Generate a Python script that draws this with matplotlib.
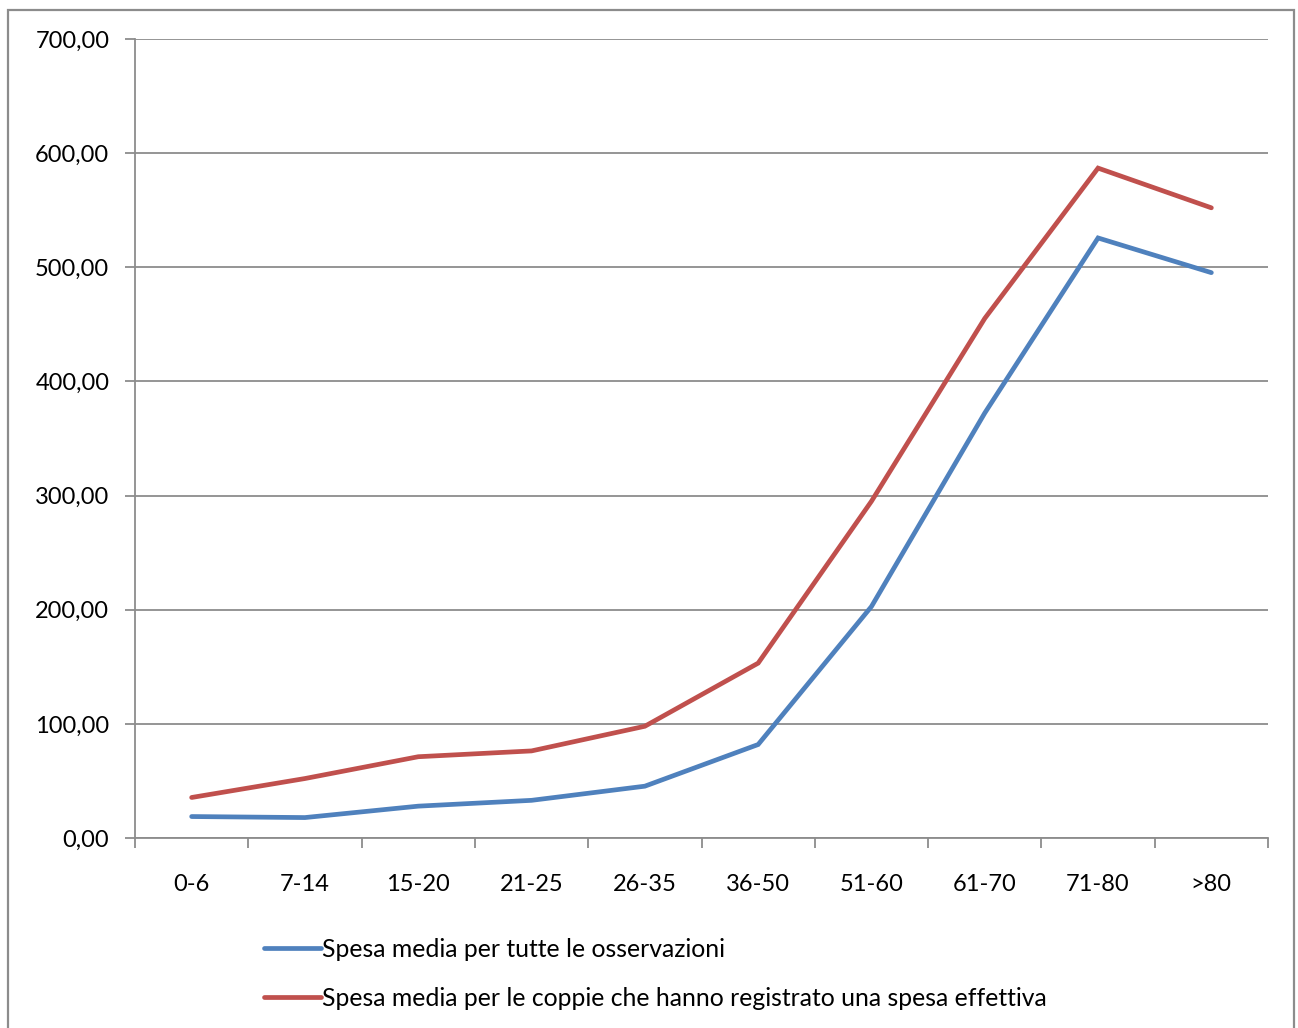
import numpy as np
import matplotlib
matplotlib.use("Agg")
import matplotlib.pyplot as plt
from matplotlib.patches import Rectangle
from matplotlib.ticker import FixedLocator, FuncFormatter

plt.rcParams['font.family'] = ['Lato', 'DejaVu Sans']

categories = ["0-6", "7-14", "15-20", "21-25", "26-35", "36-50", "51-60", "61-70", "71-80", ">80"]
spesa_tutte = [18.8, 17.9, 27.9, 33.0, 45.4, 81.9, 202.8, 372.3, 525.7, 495.3]
spesa_effettiva = [35.5, 52.1, 71.2, 76.3, 97.9, 153.2, 295.0, 455.2, 586.9, 552.1]
series_labels = ["Spesa media per tutte le osservazioni",
                 "Spesa media per le coppie che hanno registrato una spesa effettiva"]
y_ticks = [0, 100, 200, 300, 400, 500, 600, 700]

W, H = 1298, 1028
fig = plt.figure(figsize=(W / 100, H / 100), dpi=100)
fig.patch.set_facecolor("white")

# outer chart frame
fig.patches.append(Rectangle((8 / W, -0.05), (1294 - 8) / W, 1.05 - 10 / H,
                             transform=fig.transFigure, fill=False,
                             edgecolor="#8c8c8c", linewidth=1.6))

left, right, top, bottom = 135, 1268, 39, 838
ax = fig.add_axes([left / W, 1 - bottom / H, (right - left) / W, (bottom - top) / H])

grid_c = "#8c8c8c"
x = np.arange(len(categories))
ax.plot(x, spesa_tutte, color="#4F81BD", lw=3.4, solid_capstyle="round",
        solid_joinstyle="miter", label=series_labels[0])
ax.plot(x, spesa_effettiva, color="#C0504D", lw=3.4, solid_capstyle="round",
        solid_joinstyle="miter", label=series_labels[1])

ax.set_xlim(-0.5, len(categories) - 0.5)
ax.set_ylim(0, 700)

for s in ["top", "right"]:
    ax.spines[s].set_visible(False)
for s in ["left", "bottom"]:
    ax.spines[s].set_color(grid_c)
    ax.spines[s].set_linewidth(1.3)

ax.set_yticks(y_ticks)
ax.yaxis.set_major_formatter(FuncFormatter(lambda v, p: f"{v:.2f}".replace(".", ",")))
ax.yaxis.grid(True, color=grid_c, linewidth=1.3)
ax.set_axisbelow(True)
ax.tick_params(axis="y", direction="out", length=7, width=1.3, color=grid_c,
               labelsize=17, pad=11.5, labelcolor="black")

ax.set_xticks(x)
ax.set_xticklabels(categories)
ax.xaxis.set_minor_locator(FixedLocator(np.arange(-0.5, len(categories), 1.0)))
ax.tick_params(axis="x", which="major", length=0, labelsize=17, pad=26, labelcolor="black")
ax.tick_params(axis="x", which="minor", direction="out", length=7, width=1.3, color=grid_c)

fig.legend(loc="upper left", bbox_to_anchor=(264 / W, 1 - 938 / H),
           frameon=False, fontsize=17.8, handlelength=2.3, handletextpad=0.05,
           labelspacing=1.05, borderaxespad=0, borderpad=0)

fig.savefig("out.png", dpi=100, facecolor="white")
